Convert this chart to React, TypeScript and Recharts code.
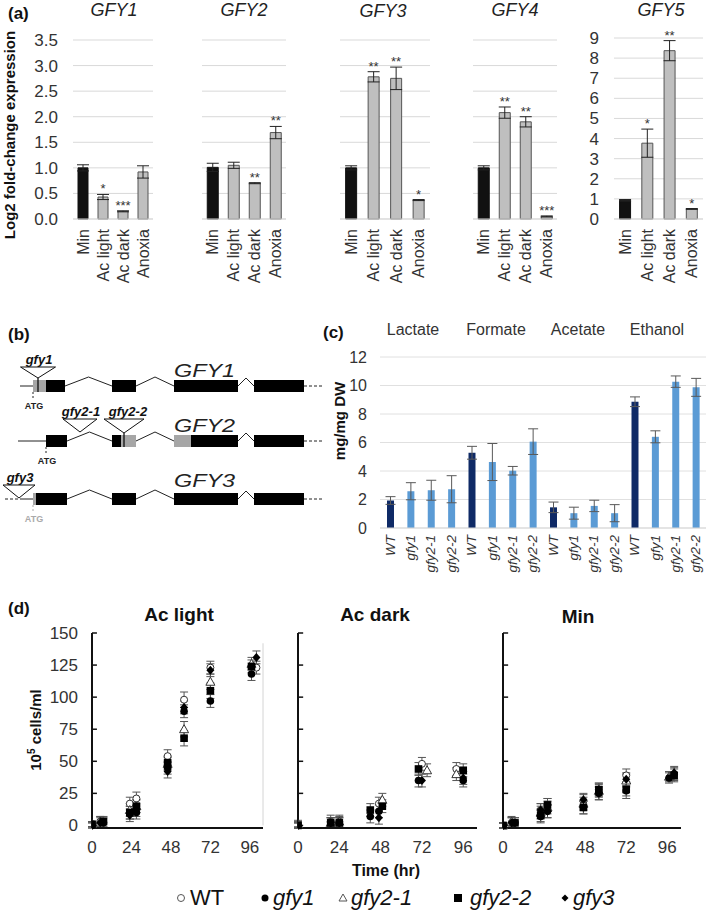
import React from "react";
import {
  BarChart, Bar, XAxis, YAxis, CartesianGrid, ErrorBar, Cell, LabelList,
  ScatterChart, Scatter, ComposedChart, Line, ReferenceArea, ReferenceLine,
} from "recharts";

const font = "'Liberation Sans', Arial, Helvetica, sans-serif";

// (a) log2 fold-change expression
const conditions = ["Min", "Ac light", "Ac dark", "Anoxia"];
const gfy1Mean = [1.0, 0.43, 0.15, 0.92];
const gfy1Err = [0.06, 0.05, 0.01, 0.12];
const gfy1Sig = ["", "*", "***", ""];
const gfy2Mean = [1.01, 1.05, 0.7, 1.69];
const gfy2Err = [0.08, 0.06, 0.01, 0.12];
const gfy2Sig = ["", "", "**", "**"];
const gfy3Mean = [1.0, 2.78, 2.75, 0.37];
const gfy3Err = [0.04, 0.1, 0.22, 0.01];
const gfy3Sig = ["", "**", "**", "*"];
const gfy4Mean = [1.0, 2.08, 1.9, 0.05];
const gfy4Err = [0.04, 0.11, 0.1, 0.01];
const gfy4Sig = ["", "**", "**", "***"];
const gfy5Mean = [0.93, 3.77, 8.37, 0.5];
const gfy5Err = [0.04, 0.7, 0.5, 0.02];
const gfy5Sig = ["", "*", "**", "*"];
const foldTicks = [0, 0.5, 1, 1.5, 2, 2.5, 3, 3.5];
const gfy5Ticks = [0, 1, 2, 3, 4, 5, 6, 7, 8, 9];

// (b) gene models, x in diagram units, rows top to bottom
const geneNames = ["GFY1", "GFY2", "GFY3"];
const geneRow = [96, 151, 209];
const geneExons: [number, number, string][][] = [
  [[33, 46, "utr"], [46, 65, "cds"], [112, 136, "cds"], [174, 238, "cds"], [254, 304, "cds"]],
  [[46, 67, "cds"], [112, 121, "cds"], [121, 136, "utr"], [174, 191, "utr"], [191, 238, "cds"], [254, 304, "cds"]],
  [[33, 36, "utr"], [36, 67, "cds"], [112, 136, "cds"], [174, 238, "cds"], [254, 304, "cds"]],
];
const geneLead = [[20, 33], [18, 46], [20, 33]];
const geneLeadDash = [null, null, [5, 20]];
const geneTail = [304, 323];
const geneAtg = [33, 46, 33];
const insName = ["gfy1", "gfy2-1", "gfy2-2", "gfy3"];
const insGene = [0, 1, 1, 2];
const insX = [38, 80, 124, 19];
const insTop = [19, 22, 22, 14];
const insApex = [8, 9, 8, 1];
const insHalf = [17.5, 17, 20, 16];
const insInExon = [true, false, true, false];

// (c) fermentation products, mg/mg DW
const acids = ["Lactate", "Formate", "Acetate", "Ethanol"];
const genotypes = ["WT", "gfy1", "gfy2-1", "gfy2-2"];
const lactateMean = [1.93, 2.58, 2.65, 2.72];
const lactateErr = [0.27, 0.6, 0.7, 0.95];
const formateMean = [5.28, 4.63, 4.02, 6.06];
const formateErr = [0.45, 1.3, 0.3, 0.9];
const acetateMean = [1.45, 1.04, 1.55, 1.04];
const acetateErr = [0.37, 0.42, 0.4, 0.6];
const ethanolMean = [8.86, 6.4, 10.27, 9.87];
const ethanolErr = [0.34, 0.42, 0.4, 0.63];
const mgTicks = [0, 2, 4, 6, 8, 10, 12];

// (d) growth, [time h, 10^5 cells/ml, sd]
const lightWT = [[0, 1, 2], [5, 3, 4], [23, 17, 5], [27, 21, 5], [46, 54, 5], [56, 98, 6], [72, 123, 5], [100, 123, 5]];
const lightG1 = [[0, 0, 2], [7, 2, 4], [23, 10, 5], [27, 10, 5], [46, 45, 5], [56, 89, 5], [72, 97, 5], [97, 118, 5]];
const lightG21 = [[0, 1, 2], [5, 3, 4], [23, 12, 5], [27, 15, 5], [46, 48, 5], [56, 75, 6], [72, 112, 6], [97, 126, 5]];
const lightG22 = [[0, 1, 2], [7, 3, 4], [23, 10, 5], [27, 15, 5], [46, 49, 5], [56, 68, 6], [72, 105, 6], [97, 124, 5]];
const lightG3 = [[0, 0, 2], [5, 2, 4], [23, 8, 5], [27, 12, 5], [46, 42, 5], [56, 92, 5], [72, 121, 5], [100, 131, 5]];
const darkWT = [[0, 1, 3], [19, 3, 5], [24, 3, 5], [47, 17, 5], [72, 48, 5], [92, 44, 5]];
const darkG1 = [[0, 0, 2], [19, 2, 4], [24, 2, 4], [42, 7, 5], [47, 11, 5], [70, 35, 5], [96, 35, 5]];
const darkG21 = [[0, 1, 2], [19, 2, 4], [24, 3, 4], [49, 20, 5], [75, 43, 5], [92, 40, 5]];
const darkG22 = [[0, 0, 2], [19, 2, 4], [24, 2, 4], [42, 12, 5], [49, 15, 5], [70, 44, 5], [96, 43, 5]];
const darkG3 = [[0, 0, 2], [19, 2, 4], [24, 2, 4], [47, 6, 5], [72, 35, 5], [96, 37, 5]];
const minWT = [[0, 0, 2], [5, 2, 4], [22, 12, 5], [26, 16, 5], [47, 19, 5], [56, 28, 5], [72, 39, 5], [100, 40, 5]];
const minG1 = [[0, 0, 2], [7, 2, 4], [22, 7, 5], [26, 11, 5], [47, 14, 5], [56, 25, 5], [72, 27, 6], [97, 37, 4]];
const minG21 = [[0, 0, 2], [5, 3, 4], [22, 10, 5], [26, 14, 5], [47, 17, 5], [56, 27, 5], [72, 35, 5], [97, 38, 4]];
const minG22 = [[0, 0, 2], [7, 2, 4], [22, 8, 5], [26, 16, 5], [47, 14, 5], [56, 28, 5], [72, 28, 5], [100, 39, 5]];
const minG3 = [[0, 0, 2], [5, 2, 4], [22, 12, 5], [26, 11, 5], [47, 20, 5], [56, 25, 5], [72, 36, 5], [100, 41, 5]];
const timeTicks = [0, 24, 48, 72, 96];
const cellTicks = [0, 25, 50, 75, 100, 125, 150];

const RotTick = ({ x, y, payload, size, italic, label }: any) => (
  <g transform={`translate(${x},${y})`}>
    <text transform="rotate(-90)" x={-2} y={0} textAnchor="end" dominantBaseline="central"
      fontSize={size} fontStyle={italic ? "italic" : "normal"} fill="#333" fontFamily={font}>
      {label ? label(payload.value) : payload.value}
    </text>
  </g>
);

const Star = ({ x, y, width, height, index, value, data }: any) => {
  if (!value) return null;
  const d = data[index];
  const errPx = d.v ? (d.e * height) / d.v : 0;
  return (
    <text x={x + width / 2} y={y - errPx - 1} textAnchor="middle" fontSize={13} fill="#333" fontFamily={font}>
      {value}
    </text>
  );
};

function Expr({ mean, err, sig, left, width, axisW, yMax, ticks, top, fmt }: any) {
  const data = conditions.map((c, i) => ({ c, v: mean[i], e: err[i], s: sig[i] }));
  const H = 290;
  return (
    <div style={{ position: "absolute", left, top: 0 }}>
      <BarChart width={width} height={H} data={data} margin={{ top, right: 0, bottom: 0, left: 0 }} barCategoryGap="25%">
        <CartesianGrid vertical={false} stroke="#d9d9d9" />
        <XAxis dataKey="c" interval={0} height={H - 219} axisLine={{ stroke: "#d9d9d9" }} tickLine={false}
          tick={(p: any) => <RotTick {...p} size={16} />} />
        <YAxis width={axisW || 0} hide={!axisW} domain={[0, yMax]} ticks={ticks} interval={0}
          axisLine={false} tickLine={false} tickSize={0} tickMargin={15} tickFormatter={fmt}
          tick={{ fontSize: 17, fill: "#333", fontFamily: font }} />
        <Bar dataKey="v" isAnimationActive={false}>
          {data.map((d, i) => (
            <Cell key={i} fill={i === 0 ? "#111111" : "#bfbfbf"} stroke={i === 0 ? "#111111" : "#555555"} strokeWidth={1} />
          ))}
          <ErrorBar dataKey="e" width={6} stroke="#222" strokeWidth={1} />
          <LabelList dataKey="s" content={(p: any) => <Star {...p} data={data} />} />
        </Bar>
      </BarChart>
    </div>
  );
}

function GeneModels() {
  const solid: any[] = [];
  const dashed: any[] = [];
  const atg: any[] = [];
  geneNames.forEach((_, g) => {
    const r = geneRow[g];
    const pts: any[] = [{ x: geneLead[g][0], y: r }, { x: geneLead[g][1], y: r }];
    const ex = geneExons[g];
    for (let i = 1; i < ex.length; i++) {
      const a = ex[i - 1][1];
      const b = ex[i][0];
      if (b > a) {
        const h = b - a > 20 ? 9 : 8;
        pts.push({ x: a, y: null }, { x: a, y: r }, { x: (a + b) / 2, y: r - h }, { x: b, y: r });
      }
    }
    solid.push(pts);
    const d: any[] = [{ x: geneTail[0], y: r }, { x: geneTail[1], y: r }];
    const ld = geneLeadDash[g];
    if (ld) d.unshift({ x: ld[0], y: r }, { x: ld[1], y: r }, { x: ld[1], y: null });
    dashed.push(d);
    atg.push([{ x: geneAtg[g], y: r + 6 }, { x: geneAtg[g], y: r + 13 }]);
  });
  const tris = insX.map((x, i) => {
    const r = geneRow[insGene[i]];
    return [
      { x: x - insHalf[i], y: r - insTop[i] }, { x: x + insHalf[i], y: r - insTop[i] },
      { x, y: r - insApex[i] }, { x: x - insHalf[i], y: r - insTop[i] },
    ];
  });
  return (
    <div style={{ position: "absolute", left: 0, top: 290 }}>
      <ComposedChart width={330} height={250} margin={{ top: 0, right: 0, bottom: 0, left: 0 }}>
        <XAxis type="number" dataKey="x" domain={[0, 330]} allowDataOverflow hide />
        <YAxis type="number" domain={[0, 250]} reversed allowDataOverflow hide />
        {solid.map((d, i) => (
          <Line key={"s" + i} data={d} dataKey="y" stroke="#222" strokeWidth={1} dot={false} isAnimationActive={false} />
        ))}
        {dashed.map((d, i) => (
          <Line key={"d" + i} data={d} dataKey="y" stroke="#222" strokeWidth={1}
            strokeDasharray="3 2" dot={false} isAnimationActive={false} />
        ))}
        {atg.map((d, i) => (
          <Line key={"a" + i} data={d} dataKey="y" stroke={i === 2 ? "#aaa" : "#222"} strokeWidth={1}
            strokeDasharray="2 2" dot={false} isAnimationActive={false} />
        ))}
        {tris.map((d, i) => (
          <Line key={"t" + i} data={d} dataKey="y" stroke="#111" strokeWidth={1} dot={false} isAnimationActive={false} />
        ))}
        {geneExons.flatMap((ex, g) =>
          ex.map(([a, b, kind], j) => (
            <ReferenceArea key={`e${g}-${j}`} x1={a} x2={b} y1={geneRow[g] - 6} y2={geneRow[g] + 6}
              fill={kind === "cds" ? "#000" : "#a6a6a6"} fillOpacity={1} stroke="none" ifOverflow="visible" />
          ))
        )}
        {insX.map((x, i) =>
          insInExon[i] ? (
            <ReferenceArea key={"i" + i} x1={x - 0.6} x2={x + 0.6} y1={geneRow[insGene[i]] - insApex[i]}
              y2={geneRow[insGene[i]] + 6} fill="#000" fillOpacity={1} stroke="none" ifOverflow="visible" />
          ) : null
        )}
      </ComposedChart>
    </div>
  );
}

function Metab() {
  const means = [lactateMean, formateMean, acetateMean, ethanolMean];
  const errs = [lactateErr, formateErr, acetateErr, ethanolErr];
  const data = acids.flatMap((a, gi) =>
    genotypes.map((g, i) => ({ id: `${a}-${g}`, g, v: means[gi][i], e: errs[gi][i], wt: i === 0 }))
  );
  return (
    <div style={{ position: "absolute", left: 330, top: 340 }}>
      <BarChart width={379} height={248} data={data} margin={{ top: 17, right: 3, bottom: 0, left: 0 }}>
        <CartesianGrid vertical={false} stroke="#e0e0e0" />
        <XAxis dataKey="id" interval={0} height={60} axisLine={{ stroke: "#d9d9d9" }} tickLine={false}
          tickSize={0} tickMargin={5}
          tick={(p: any) => <RotTick {...p} size={13.5} italic label={(v: string) => v.split("-").slice(1).join("-")} />} />
        <YAxis width={50} domain={[0, 12]} ticks={mgTicks} interval={0} axisLine={false} tickLine={false}
          tickSize={0} tickMargin={13} tick={{ fontSize: 16, fill: "#333", fontFamily: font }} />
        <Bar dataKey="v" barSize={7} isAnimationActive={false}>
          {data.map((d, i) => (
            <Cell key={i} fill={d.wt ? "#0f2a66" : "#5b9bd5"} />
          ))}
          <ErrorBar dataKey="e" width={5} stroke="#595959" strokeWidth={1} />
        </Bar>
      </BarChart>
    </div>
  );
}

const Marker = ({ cx, cy, kind }: any) => {
  if (cx == null || cy == null) return null;
  if (kind === "wt") return <circle cx={cx} cy={cy} r={3.5} fill="#fff" stroke="#333" strokeWidth={1} />;
  if (kind === "g1") return <circle cx={cx} cy={cy} r={3.8} fill="#000" />;
  if (kind === "g21")
    return <path d={`M${cx},${cy - 4.5}L${cx + 4.5},${cy + 3.5}L${cx - 4.5},${cy + 3.5}Z`} fill="#fff" stroke="#333" strokeWidth={1} />;
  if (kind === "g22") return <rect x={cx - 3.8} y={cy - 3.8} width={7.6} height={7.6} fill="#000" />;
  return <path d={`M${cx},${cy - 4.5}L${cx + 4},${cy}L${cx},${cy + 4.5}L${cx - 4},${cy}Z`} fill="#000" />;
};

const toPts = (a: number[][]) => a.map(([t, v, e]) => ({ t, v, e }));

function Growth({ left, width, axisW, labels, series, border }: any) {
  const kinds = ["wt", "g21", "g1", "g22", "g3"];
  return (
    <div style={{ position: "absolute", left, top: 620 }}>
      <ScatterChart width={width} height={250} margin={{ top: 13, right: 3, bottom: 0, left: 0 }}>
        <XAxis type="number" dataKey="t" domain={[0, 104]} ticks={timeTicks} interval={0} allowDataOverflow
          axisLine={{ stroke: "#111", strokeWidth: 2 }} tickLine={false} tickMargin={7} height={42}
          tick={{ fontSize: 17, fill: "#333", fontFamily: font }} />
        <YAxis type="number" dataKey="v" domain={[0, 150]} ticks={cellTicks} interval={0} width={axisW}
          axisLine={{ stroke: "#111", strokeWidth: 2 }} tickLine={false} tickSize={0} tickMargin={14}
          tick={labels ? { fontSize: 17, fill: "#333", fontFamily: font } : false} />
        {cellTicks.map((v) => (
          <ReferenceLine key={v} segment={[{ x: 0, y: v }, { x: 3, y: v }]} stroke="#111" strokeWidth={1.5} ifOverflow="visible" />
        ))}
        {border && <ReferenceLine segment={[{ x: 104, y: 0 }, { x: 104, y: 142 }]} stroke="#d4d4d4" ifOverflow="visible" />}
        {kinds.map((k) => (
          <Scatter key={k} data={toPts(series[k])} isAnimationActive={false}
            shape={(p: any) => <Marker cx={p.cx} cy={p.cy} kind={k} />}>
            <ErrorBar dataKey="e" direction="y" width={4} stroke="#555" strokeWidth={1} />
          </Scatter>
        ))}
      </ScatterChart>
    </div>
  );
}

function Overlay() {
  const bold = { fontWeight: 700 as const };
  const rows = geneRow.map((r) => r + 290);
  return (
    <svg width={709} height={912} style={{ position: "absolute", left: 0, top: 0, pointerEvents: "none" }}
      fontFamily={font} fill="#111">
      {/* (a) */}
      <text x={8} y={19} fontSize={17} {...bold}>(a)</text>
      <text transform="translate(15,135) rotate(-90)" textAnchor="middle" fontSize={15} {...bold}>
        Log2 fold-change expression
      </text>
      {[["GFY1", 114, 16], ["GFY2", 244, 16], ["GFY3", 383, 17], ["GFY4", 515, 16], ["GFY5", 661, 16]].map(([s, x, y]) => (
        <text key={s as string} x={x as number} y={y as number} textAnchor="middle" fontSize={18} fontStyle="italic" fill="#222">{s}</text>
      ))}
      {/* (b) */}
      <text x={8} y={340} fontSize={17} {...bold}>(b)</text>
      {geneNames.map((g, i) => (
        <text key={g} x={174} y={rows[i] - 9 - (i === 2 ? 3 : 0)} fontSize={19} fontStyle="italic" textLength={61}
          lengthAdjust="spacingAndGlyphs" fill="#222">{g}</text>
      ))}
      {insName.map((n, i) => (
        <text key={n} x={insX[i] + (i === 2 ? 4 : 1)} y={rows[insGene[i]] - insTop[i] - 3} textAnchor="middle"
          fontSize={13} fontStyle="italic" {...bold}>{n}</text>
      ))}
      {geneAtg.map((x, i) => (
        <text key={"atg" + i} x={x + 1} y={rows[i] + 23} textAnchor="middle" fontSize={9} {...bold}
          fill={i === 2 ? "#aaa" : "#222"}>ATG</text>
      ))}
      {/* (c) */}
      <text x={323} y={338} fontSize={17} {...bold}>(c)</text>
      {[413, 496, 578, 657].map((x, i) => (
        <text key={acids[i]} x={x} y={335} textAnchor="middle" fontSize={16} fill="#333">{acids[i]}</text>
      ))}
      <text transform="translate(345,421) rotate(-90)" textAnchor="middle" fontSize={15} {...bold}>mg/mg DW</text>
      {/* (d) */}
      <text x={8} y={614} fontSize={17} {...bold}>(d)</text>
      {[["Ac light", 179, 621], ["Ac dark", 375, 621], ["Min", 578, 623]].map(([s, x, y]) => (
        <text key={s as string} x={x as number} y={y as number} textAnchor="middle" fontSize={19} {...bold}>{s}</text>
      ))}
      <text transform="translate(41,730) rotate(-90)" textAnchor="middle" fontSize={15} {...bold}>
        10<tspan dy={-6} fontSize={10}>5</tspan><tspan dy={6}> cells/ml</tspan>
      </text>
      <text x={386} y={876} textAnchor="middle" fontSize={16} {...bold}>Time (hr)</text>
      {/* legend */}
      <circle cx={181} cy={898} r={3.5} fill="#fff" stroke="#555" strokeWidth={1} />
      <text x={190} y={905} fontSize={22}>WT</text>
      <circle cx={265} cy={898} r={3.5} fill="#000" />
      <text x={273} y={905} fontSize={22} fontStyle="italic">gfy1</text>
      <path d="M343,894L347,901L339,901Z" fill="#fff" stroke="#555" strokeWidth={1} />
      <text x={351} y={905} fontSize={22} fontStyle="italic">gfy2-1</text>
      <rect x={454} y={894} width={8} height={8} fill="#000" />
      <text x={470} y={905} fontSize={22} fontStyle="italic">gfy2-2</text>
      <path d="M565,894.5L568.5,898L565,901.5L561.5,898Z" fill="#000" />
      <text x={573} y={905} fontSize={22} fontStyle="italic">gfy3</text>
    </svg>
  );
}

export default function App() {
  const fmt1 = (v: number) => v.toFixed(1);
  return (
    <div style={{ position: "absolute", left: 0, top: 0, width: 709, height: 912, background: "#fff", fontFamily: font }}>
      <Expr mean={gfy1Mean} err={gfy1Err} sig={gfy1Sig} left={0} width={153} axisW={73} yMax={3.5} ticks={foldTicks} top={40} fmt={fmt1} />
      <Expr mean={gfy2Mean} err={gfy2Err} sig={gfy2Sig} left={202} width={84} yMax={3.5} ticks={foldTicks} top={40} />
      <Expr mean={gfy3Mean} err={gfy3Err} sig={gfy3Sig} left={340} width={90} yMax={3.5} ticks={foldTicks} top={40} />
      <Expr mean={gfy4Mean} err={gfy4Err} sig={gfy4Sig} left={473} width={84} yMax={3.5} ticks={foldTicks} top={40} />
      <Expr mean={gfy5Mean} err={gfy5Err} sig={gfy5Sig} left={560} width={143} axisW={54} yMax={9} ticks={gfy5Ticks} top={38} />
      <GeneModels />
      <Metab />
      <Growth left={20} width={246} axisW={72} labels border
        series={{ wt: lightWT, g1: lightG1, g21: lightG21, g22: lightG22, g3: lightG3 }} />
      <Growth left={280} width={200} axisW={18}
        series={{ wt: darkWT, g1: darkG1, g21: darkG21, g22: darkG22, g3: darkG3 }} />
      <Growth left={485} width={199} axisW={18}
        series={{ wt: minWT, g1: minG1, g21: minG21, g22: minG22, g3: minG3 }} />
      <Overlay />
    </div>
  );
}
